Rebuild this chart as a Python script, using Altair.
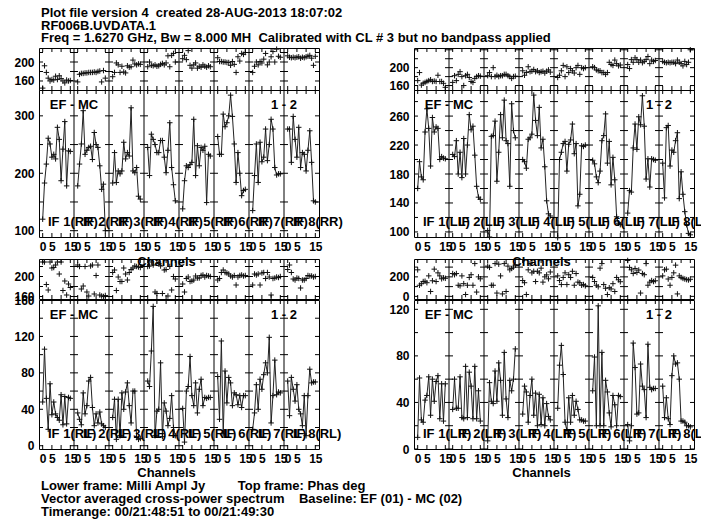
import altair as alt
import pandas as pd

FONT = "Liberation Sans"
CHANNELS = list(range(16))
IFS = list(range(1, 9))
SPAN = 19     # channel slots per IF panel (16 channels plus a small gap)
LEAD = 2.0    # empty slots in front of channel 0 in every panel

# ---------------- amplitude (milli Jy) and phase (deg), per IF ----------------
rr_amp = [
    [120, 183, 216, 261, 251, 228, 233, 225, 280, 259, 187, 242, 290, 178, 239, 238],
    [178, 216, 251, 309, 233, 240, 245, 247, 224, 271, 250, 245, 213, 172, 181, 100],
    [183, 236, 184, 204, 199, 204, 254, 225, 236, 230, 314, 204, 201, 210, 160, 155],
    [245, 196, 268, 259, 250, 236, 236, 257, 257, 228, 201, 240, 288, 210, 180, 152],
    [138, 187, 213, 210, 215, 219, 294, 196, 248, 213, 245, 240, 247, 149, 233, 230],
    [264, 233, 233, 303, 281, 288, 300, 336, 299, 251, 184, 236, 200, 161, 170, 172],
    [135, 196, 251, 184, 254, 220, 228, 277, 222, 250, 294, 277, 210, 197, 199, 199],
    [277, 277, 219, 299, 259, 228, 280, 210, 236, 233, 204, 240, 274, 219, 152, 150],
]
rr_phase = [
    [145, 192, 178, 166, 160, 163, 162, 170, 163, 171, 165, 160, 156, 162, 160, 161],
    [158, 174, 176, 176, 177, 177, 178, 178, 178, 179, 178, 180, 181, 158, 182, 166],
    [169, 178, 198, 194, 178, 191, 179, 177, 192, 189, 190, 204, 196, 194, 196, 195],
    [190, 200, 193, 192, 194, 191, 192, 195, 197, 194, 198, 213, 190, 214, 218, 200],
    [207, 214, 205, 224, 193, 187, 194, 198, 187, 191, 189, 194, 191, 189, 192, 190],
    [209, 201, 201, 200, 200, 199, 199, 193, 201, 195, 178, 211, 202, 218, 216, 220],
    [178, 191, 200, 194, 201, 198, 206, 218, 194, 200, 211, 222, 200, 227, 212, 210],
    [213, 210, 209, 210, 209, 210, 211, 208, 210, 209, 211, 212, 214, 208, 193, 212],
]
ll_amp = [
    [160, 197, 176, 172, 238, 270, 243, 191, 258, 238, 245, 243, 200, 204, 202, 201],
    [207, 204, 226, 180, 210, 175, 229, 180, 220, 262, 241, 246, 206, 163, 148, 145],
    [102, 93, 232, 233, 253, 170, 210, 262, 230, 282, 226, 222, 163, 277, 240, 230],
    [200, 197, 188, 228, 230, 235, 289, 254, 233, 272, 216, 228, 190, 143, 125, 122],
    [92, 200, 210, 222, 225, 184, 221, 227, 249, 208, 222, 136, 152, 219, 218, 220],
    [199, 194, 176, 168, 184, 226, 233, 263, 195, 225, 165, 203, 172, 121, 112, 110],
    [126, 157, 155, 216, 249, 214, 259, 248, 288, 246, 173, 201, 162, 201, 200, 199],
    [195, 147, 244, 247, 191, 213, 210, 226, 237, 146, 183, 152, 128, 110, 98, 96],
]
ll_phase = [
    [171, 189, 161, 165, 167, 169, 171, 173, 169, 170, 169, 183, 169, 169, 165, 156],
    [167, 182, 171, 185, 191, 180, 160, 182, 185, 178, 169, 167, 176, 180, 182, 181],
    [182, 189, 180, 200, 180, 183, 180, 182, 182, 185, 185, 182, 180, 176, 180, 181],
    [193, 183, 189, 202, 191, 192, 196, 191, 193, 189, 191, 192, 188, 192, 195, 190],
    [178, 183, 193, 205, 180, 202, 189, 198, 193, 188, 200, 205, 185, 200, 198, 200],
    [202, 200, 195, 193, 193, 189, 189, 185, 189, 212, 207, 205, 217, 209, 204, 206],
    [207, 198, 218, 212, 222, 218, 212, 217, 211, 214, 218, 225, 209, 217, 214, 216],
    [214, 212, 211, 212, 211, 212, 212, 209, 217, 212, 209, 204, 214, 207, 212, 240],
]
rl_amp = [
    [48, 106, 52, 18, 68, 34, 48, 35, 31, 28, 56, 23, 54, 24, 53, 52],
    [36, 29, 23, 58, 35, 44, 71, 75, 42, 22, 35, 25, 37, 24, 22, 20],
    [31, 51, 7, 51, 11, 58, 40, 59, 69, 44, 25, 60, 60, 9, 7, 8],
    [71, 65, 104, 153, 11, 38, 40, 91, 10, 47, 38, 22, 30, 55, 20, 11],
    [41, 4, 60, 65, 98, 55, 44, 69, 36, 62, 73, 44, 53, 52, 53, 53],
    [76, 29, 115, 13, 82, 47, 75, 69, 44, 58, 56, 45, 55, 42, 55, 55],
    [18, 36, 67, 40, 73, 62, 78, 91, 80, 119, 25, 55, 94, 56, 59, 58],
    [71, 33, 75, 62, 49, 67, 40, 35, 22, 55, 11, 55, 84, 69, 70, 70],
]
rl_phase = [
    [229, 229, 184, 173, 229, 217, 218, 223, 229, 205, 229, 172, 191, 163, 185, 178],
    [223, 220, 175, 181, 220, 169, 161, 221, 223, 165, 202, 223, 163, 161, 160, 162],
    [208, 213, 172, 199, 190, 190, 217, 205, 193, 208, 214, 217, 221, 220, 219, 218],
    [220, 221, 229, 223, 169, 166, 226, 221, 166, 213, 214, 161, 220, 173, 200, 195],
    [185, 169, 196, 199, 190, 191, 193, 201, 197, 197, 202, 203, 199, 202, 201, 200],
    [193, 196, 208, 213, 208, 207, 205, 201, 199, 202, 183, 199, 202, 203, 201, 202],
    [183, 205, 203, 205, 183, 207, 208, 196, 208, 199, 163, 196, 197, 199, 198, 200],
    [214, 223, 208, 195, 193, 197, 196, 177, 193, 193, 196, 202, 201, 201, 199, 200],
]
lr_amp = [
    [10, 61, 25, 23, 42, 46, 62, 29, 60, 41, 58, 63, 26, 56, 24, 56],
    [34, 60, 35, 35, 62, 27, 26, 71, 27, 66, 54, 26, 71, 26, 50, 24],
    [7, 57, 41, 39, 67, 41, 74, 59, 29, 83, 43, 27, 59, 50, 60, 86],
    [30, 54, 49, 23, 46, 60, 29, 48, 20, 47, 21, 44, 20, 39, 28, 25],
    [35, 72, 89, 64, 23, 16, 44, 23, 46, 29, 41, 34, 25, 25, 24, 24],
    [50, 79, 20, 123, 20, 83, 20, 59, 49, 31, 19, 46, 38, 20, 46, 45],
    [21, 7, 20, 91, 70, 30, 31, 73, 54, 51, 27, 90, 53, 51, 52, 52],
    [54, 27, 44, 26, 21, 63, 80, 73, 74, 60, 24, 24, 23, 20, 20, 19],
]
lr_phase = [
    [272, 114, 130, 152, 155, 140, 210, 50, 160, 279, 152, 241, 210, 180, 190, 185],
    [234, 222, 234, 114, 108, 210, 130, 19, 114, 194, 222, 114, 336, 44, 200, 180],
    [310, 297, 114, 114, 336, 34, 330, 210, 25, 336, 50, 310, 272, 286, 300, 320],
    [162, 140, 19, 272, 336, 241, 257, 152, 257, 241, 289, 146, 200, 220, 180, 250],
    [210, 162, 121, 194, 241, 121, 222, 194, 257, 114, 234, 146, 140, 114, 121, 108],
    [194, 152, 114, 98, 289, 336, 121, 83, 19, 89, 76, 130, 50, 194, 170, 150],
    [368, 297, 272, 234, 286, 245, 270, 34, 234, 222, 336, 114, 146, 162, 152, 160],
    [210, 272, 279, 178, 114, 194, 241, 320, 25, 210, 194, 184, 178, 172, 168, 175],
]

NB = "\u00a0"
header_lines = [
    f"Plot file version 4{NB}{NB}created 28-AUG-2013 18:07:02",
    "RF006B.UVDATA.1",
    f"Freq = 1.6270 GHz, Bw = 8.000 MH{NB * 2}Calibrated with CL # 3 but no bandpass applied",
]
footer_lines = [
    f"Lower frame: Milli Ampl Jy{NB * 9}Top frame: Phas deg",
    f"Vector averaged cross-power spectrum{NB * 4}Baseline: EF (01) - MC (02)",
    "Timerange: 00/21:48:51 to 00/21:49:30",
]

PLUS = "M-1,0L1,0M0,-1L0,1"
X_DOMAIN = [-LEAD, len(IFS) * SPAN - LEAD]
EDGES = [k * SPAN - LEAD for k in range(len(IFS) + 1)]
PANEL_W = 280
NO_FRAME = alt.ViewBackground(strokeOpacity=0)


def spectrum_table(amp, phase):
    rows = []
    for k, ifn in enumerate(IFS):
        for c in CHANNELS:
            rows.append({"IF": ifn, "chan": c, "pos": k * SPAN + c,
                         "amp": amp[k][c], "phase": phase[k][c]})
    return pd.DataFrame(rows)


def frame(table, field, domain, label_vals, tick_vals, height,
          amp_frame=False, pol="", title_y=24):
    xs = alt.Scale(domain=X_DOMAIN, nice=False, zero=False)
    ys = alt.Scale(domain=domain, nice=False, zero=False)
    y_axis = alt.Axis(values=label_vals, title=None, ticks=False, tickSize=0,
                      domain=False, grid=False, labelPadding=5, labelFontSize=12)
    if amp_frame:
        x_axis = alt.Axis(
            values=[k * SPAN + c for k in range(len(IFS)) for c in (0, 5, 15)],
            labelExpr=f"'' + (datum.value % {SPAN})",
            title="Channels", ticks=False, tickSize=0, domain=False, grid=False,
            labelPadding=4, labelOverlap=False, labelFlush=False, labelFontSize=12,
            titleX=127, titleY=title_y, titleAlign="center", titleBaseline="middle")
    else:
        x_axis = None

    # every layer carries the same axis definitions so that they merge cleanly
    def X(f):
        return alt.X(f"{f}:Q", scale=xs, axis=x_axis)

    def Y(f):
        return alt.Y(f"{f}:Q", scale=ys, axis=y_axis)

    layers = []
    if amp_frame:
        layers.append(
            alt.Chart(table).mark_line(color="#222222", strokeWidth=1).encode(
                x=X("pos"), y=Y(field), detail="IF:N"))
    layers.append(
        alt.Chart(table).mark_point(shape=PLUS, size=30, filled=False, color="#111111",
                                    strokeWidth=1, opacity=1).encode(
            x=X("pos"), y=Y(field)))

    # IF panel separators
    layers.append(
        alt.Chart(pd.DataFrame({"b": EDGES[1:-1]})).mark_rule(
            color="black", strokeWidth=1).encode(x=X("b")))

    # inward tick marks on the panel edges
    ytk = pd.DataFrame([{"b": b, "v": v} for b in EDGES for v in tick_vals])
    layers.append(
        alt.Chart(ytk).mark_tick(orient="horizontal", size=8, thickness=1,
                                 color="black", opacity=1, clip=True).encode(
            x=X("b"), y=Y("v")))
    xtk = pd.DataFrame([{"p": k * SPAN + c, "v": d}
                        for k in range(len(IFS)) for c in (0, 5, 10, 15) for d in domain])
    layers.append(
        alt.Chart(xtk).mark_tick(orient="vertical", size=8, thickness=1,
                                 color="black", opacity=1, clip=True).encode(
            x=X("p"), y=Y("v")))

    if amp_frame:
        corner = pd.DataFrame({"b": [EDGES[1], EDGES[7]], "t": ["EF - MC", "1 - 2"]})
        layers.append(
            alt.Chart(corner).mark_text(font=FONT, fontSize=13, fontWeight="bold",
                                        color="black", align="center",
                                        baseline="middle").encode(
                x=X("b"), y=alt.value(15), text="t:N"))
        iflab = pd.DataFrame({"b": EDGES[:-1], "t": [f"IF {n}({pol})" for n in IFS]})
        layers.append(
            alt.Chart(iflab).mark_text(font=FONT, fontSize=13, fontWeight="bold",
                                       color="black", align="left", dx=9,
                                       baseline="middle").encode(
                x=X("b"), y=alt.value(height - 15), text="t:N"))

    return alt.layer(*layers).properties(width=PANEL_W, height=height)


def spacer(height):
    return alt.Chart(pd.DataFrame({"a": [0]})).mark_point(
        size=0, strokeWidth=0, opacity=0
    ).encode(
        x=alt.value(10), y=alt.value(0)
    ).properties(width=PANEL_W, height=height, view=NO_FRAME)


def text_block(lines, height, first_y, last_y):
    df = pd.DataFrame({"line": list(range(len(lines))), "txt": lines})
    return alt.Chart(df).mark_text(
        font=FONT, fontSize=13, fontWeight="bold", color="black",
        align="left", baseline="middle"
    ).encode(
        x=alt.value(2),
        y=alt.Y("line:O", axis=None,
                scale=alt.Scale(type="point", padding=0, range=[first_y, last_y])),
        text="txt:N",
    ).properties(width=PANEL_W, height=height, view=NO_FRAME)


t_rr = spectrum_table(rr_amp, rr_phase)
t_ll = spectrum_table(ll_amp, ll_phase)
t_rl = spectrum_table(rl_amp, rl_phase)
t_lr = spectrum_table(lr_amp, lr_phase)

cells = [
    text_block(header_lines, 42, 7, 32), spacer(42),
    frame(t_rr, "phase", [141, 229.5], [160, 200], [160, 180, 200, 220], 42),
    frame(t_ll, "phase", [150, 244], [160, 200], [160, 180, 200, 220, 240], 42),
    frame(t_rr, "amp", [89, 345], [100, 200, 300], [100, 150, 200, 250, 300], 147,
          True, "RR", 24),
    frame(t_ll, "amp", [93, 296], [100, 140, 180, 220, 260], list(range(100, 290, 20)),
          147, True, "LL", 24),
    spacer(22), spacer(22),
    frame(t_rl, "phase", [155, 235], [160, 200], [160, 180, 200, 220], 40),
    frame(t_lr, "phase", [-27, 383], [0, 200], [0, 100, 200, 300], 40),
    spacer(1), spacer(1),
    frame(t_rl, "amp", [-3.6, 160], [0, 40, 80, 120, 160], list(range(0, 170, 20)),
          149, True, "RL", 23),
    frame(t_lr, "amp", [0, 128], [0, 40, 80, 120], list(range(0, 130, 20)),
          149, True, "LR", 23),
    text_block(footer_lines, 66, 37, 63), spacer(66),
]

# the right-hand IF captions run past the page edge; the negative right
# padding lets the page cut them there
chart = alt.concat(
    *cells, columns=2, spacing={"row": 0, "column": 95}, bounds="flush"
).properties(
    padding={"left": 13, "top": 6, "right": -16, "bottom": 0},
    background="white",
).configure_view(
    stroke="black", strokeWidth=1
).configure_axis(
    labelFont=FONT, labelFontWeight="bold", labelColor="black",
    titleFont=FONT, titleFontWeight="bold", titleFontSize=13, titleColor="black"
)

chart.save("out.html", embed_options={"renderer": "svg", "actions": False})
